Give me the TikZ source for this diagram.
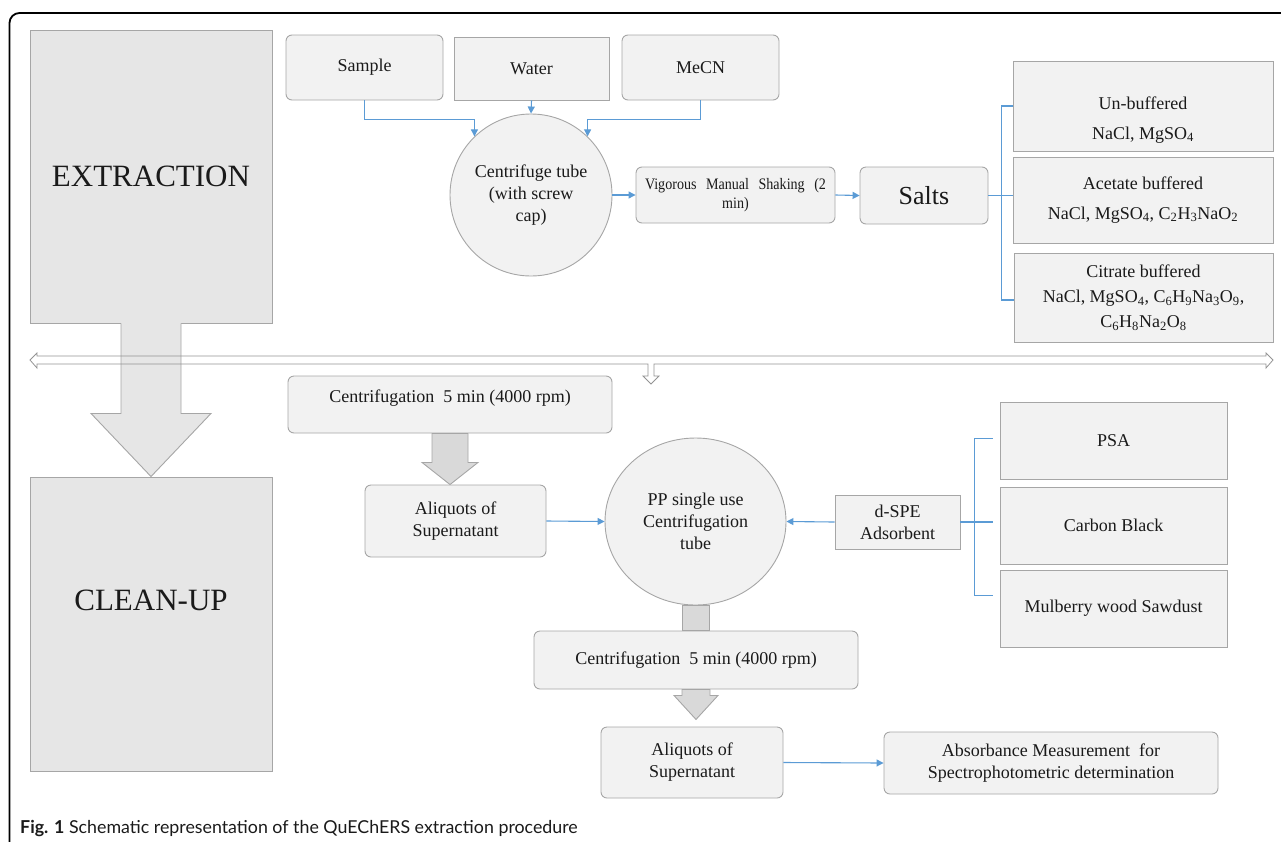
\documentclass[tikz,border=0pt]{standalone}
\usepackage{fontspec}
\setmainfont{Liberation Serif}
\setsansfont{Lato}
\usepackage{xcolor}
\usepackage{tikz}
\usetikzlibrary{positioning, arrows.meta, shapes.geometric, calc}

\definecolor{boxfill}{HTML}{F2F2F2}
\definecolor{bigfill}{HTML}{E6E6E6}
\definecolor{boxline}{HTML}{A6A6A6}
\definecolor{linkblue}{HTML}{5B9BD5}
\definecolor{arrowfill}{HTML}{D9D9D9}
\definecolor{txt}{HTML}{1A1A1A}

\begin{document}
\begin{tikzpicture}[
    x=1pt, y=-1pt,
    every node/.style={text=txt, font=\rmfamily\fontsize{18}{22}\selectfont, inner sep=0pt},
    rbox/.style={draw=boxline, fill=boxfill, rounded corners=6pt, line width=0.9pt, align=center},
    sbox/.style={draw=boxline, fill=boxfill, line width=0.9pt, align=center},
    bigbox/.style={draw=boxline, fill=bigfill, line width=0.9pt, minimum width=242pt},
    tubeshape/.style={draw=boxline, fill=boxfill, line width=0.9pt, align=center},
    link/.style={draw=linkblue, line width=1.1pt, -{Triangle[length=7pt,width=7pt]}},
    tree/.style={draw=linkblue, line width=1.1pt},
    blockarrow/.style={draw=boxline, fill=arrowfill, line width=0.9pt}
]
\useasboundingbox (0,0) rectangle (1281,841);
\draw[line width=1.8pt, rounded corners=10pt] (9.5,860) -- (9.5,13) -- (1300,13);

\node[bigbox, minimum height=293pt, font=\rmfamily\fontsize{31}{36}\selectfont] (extraction) at (151,176.5) {EXTRACTION};
\node[bigbox, minimum height=294pt, label={[font=\rmfamily\fontsize{31}{36}\selectfont, yshift=24pt]center:CLEAN-UP}] (cleanup) at (151,624) {};
\fill[bigfill] ($(extraction.south)+(-30,-1)$) -- ($(extraction.south)+(-30,90)$) -- ($(extraction.south)+(-60,90)$) -- (cleanup.north) -- ($(extraction.south)+(60,90)$) -- ($(extraction.south)+(30,90)$) -- ($(extraction.south)+(30,-1)$) -- cycle;
\draw[boxline, line width=0.9pt] ($(extraction.south)+(-30,0)$) -- ($(extraction.south)+(-30,90)$) -- ($(extraction.south)+(-60,90)$) -- (cleanup.north) -- ($(extraction.south)+(60,90)$) -- ($(extraction.south)+(30,90)$) -- ($(extraction.south)+(30,0)$);

\node[rbox, minimum width=157pt, minimum height=65pt] (sample) at (364.5,67.5) {Sample};
\node[sbox, minimum width=155pt, minimum height=63pt] (water) at (531.5,68.5) {Water};
\node[rbox, minimum width=157pt, minimum height=65pt] (mecn) at (700.5,67.5) {MeCN};
\node[tubeshape, circle, minimum size=162pt] (tube) at (531,195) {Centrifuge tube\\(with screw\\cap)};
\node[rbox, minimum width=199pt, minimum height=56pt, font=\rmfamily\fontsize{16}{19}\selectfont\addfontfeature{FakeStretch=0.88}] (shake) at (735.5,195) {\makebox[181pt][s]{Vigorous Manual Shaking (2}\\min)};
\node[rbox, minimum width=128pt, minimum height=57pt, font=\rmfamily\fontsize{26}{30}\selectfont] (salts) at (924,195.5) {Salts};
\node[sbox, minimum width=260pt, minimum height=90pt, label={[align=center, yshift=-14pt]center:Un-buffered\\[8pt]NaCl, MgSO\textsubscript{4}}] (unbuf) at (1143,106) {};
\node[sbox, minimum width=260pt, minimum height=86pt] (acet) at (1143,200) {Acetate buffered\\[8pt]NaCl, MgSO\textsubscript{4}, C\textsubscript{2}H\textsubscript{3}NaO\textsubscript{2}};
\node[sbox, minimum width=259pt, minimum height=89pt, font=\rmfamily\fontsize{18}{25}\selectfont] (citr) at (1143.5,297.5) {Citrate buffered\\NaCl, MgSO\textsubscript{4}, C\textsubscript{6}H\textsubscript{9}Na\textsubscript{3}O\textsubscript{9},\\C\textsubscript{6}H\textsubscript{8}Na\textsubscript{2}O\textsubscript{8}};

\draw[link] (sample.south) -- ++(0,19) -| (tube.134);
\draw[link] (water.south) -- (tube.north);
\draw[link] (mecn.south) -- ++(0,19) -| (tube.46);
\draw[link] (tube.east) -- (shake.west);
\draw[link] (shake.east) -- (salts.west);
\draw[tree] (unbuf.west) -- ++(-11,0) |- ($(citr.west)+(0,2.5)$);
\draw[tree] (salts.east) -- (salts.east -| acet.west);

\draw[draw=gray!85, line width=0.8pt] (30,360) -- (37,353) -- (37,356) -- (1266,356) -- (1266,353) -- (1273,360) -- (1266,368) -- (1266,364) -- (654,364) -- (654,376) -- (659,376) -- (651,384) -- (643,376) -- (648,376) -- (648,364) -- (37,364) -- (37,368) -- cycle;

\node[rbox, minimum width=324pt, minimum height=57pt, label={[yshift=6pt]center:Centrifugation\ \ 5 min (4000 rpm)}] (cent1) at (450,404.5) {};
\node[rbox, minimum width=181pt, minimum height=72pt] (ali1) at (455.5,521) {Aliquots of\\Supernatant};
\node[tubeshape, ellipse, minimum width=181pt, minimum height=167pt] (pp) at (695.5,521.5) {PP single use\\Centrifugation\\tube};
\node[sbox, minimum width=125pt, minimum height=54pt] (dspe) at (897.5,522) {d-SPE\\Adsorbent};
\node[sbox, minimum width=227pt, minimum height=77pt] (psa) at (1113.5,440.5) {PSA};
\node[sbox, minimum width=227pt, minimum height=77pt] (carbon) at (1113.5,525.5) {Carbon Black};
\node[sbox, minimum width=227pt, minimum height=77pt] (mulb) at (1113.5,608.5) {Mulberry wood Sawdust};
\node[rbox, minimum width=324pt, minimum height=58pt] (cent2) at (696,660) {Centrifugation\ \ 5 min (4000 rpm)};
\node[rbox, minimum width=182pt, minimum height=71pt] (ali2) at (692,762.5) {Aliquots of\\Supernatant};
\node[rbox, minimum width=334pt, minimum height=62pt] (absorb) at (1051,763) {Absorbance Measurement\ \ for\\Spectrophotometric determination};

\draw[blockarrow] ($(cent1.south)+(-18,0)$) -- ++(0,29) -- ++(-10,0) -- (cent1.south |- ali1.north) -- ($(cent1.south)+(28,29)$) -- ++(-10,0) -- ($(cent1.south)+(18,0)$) -- cycle;
\draw[link] (ali1.east) -- (pp.west);
\draw[link] (dspe.west) -- (pp.east);
\draw[tree] ($(psa.west)+(-7,-2)$) -- ++(-18,0) |- ($(mulb.west)+(-7,-13)$);
\draw[tree] (dspe.east) -- ($(dspe.east -| carbon.west)+(-7,0)$);
\draw[blockarrow] ($(pp.south)+(-13,0)$) rectangle ($(cent2.north)+(13,0)$);
\draw[blockarrow] ($(cent2.south)+(-14,0)$) -- ++(0,6) -- ++(-8,0) -- ($(cent2.south)+(0,30)$) -- ($(cent2.south)+(22,6)$) -- ++(-8,0) -- ($(cent2.south)+(14,0)$) -- cycle;
\draw[link] (ali2.east) -- (absorb.west);

\node[font=\sffamily\fontsize{17.8}{21}\selectfont, anchor=base west] (caption) at (20,833) {\textbf{Fig. 1} Schematic representation of the QuEChERS extraction procedure};
\end{tikzpicture}
\end{document}
